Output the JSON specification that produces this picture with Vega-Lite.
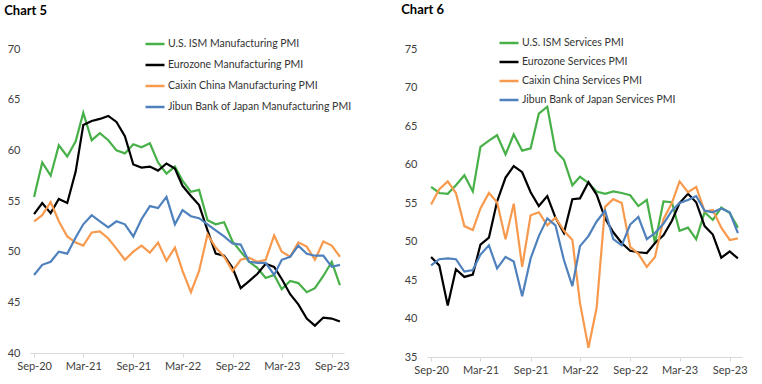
{
  "$schema": "https://vega.github.io/schema/vega-lite/v6.json",
  "padding": {"left": 4, "top": 4, "right": 2, "bottom": 2},
  "config": {
    "view": {"stroke": null},
    "font": "Lato",
    "axis": {"labelFont": "Lato", "labelFontSize": 11, "labelColor": "#404040", "grid": false, "title": null},
    "legend": {"labelFont": "Lato", "labelFontSize": 10.5, "labelColor": "#333333", "labelLimit": 0},
    "title": {"font": "Lato", "fontSize": 13, "fontWeight": "bold", "color": "#000000", "anchor": "start", "frame": "bounds", "dx": -3, "offset": 15},
    "concat": {"spacing": 49}
  },
  "datasets": {
    "mfg": [
      {"month": "2020-09", "us": 55.4, "ez": 53.7, "cn": 53.0, "jp": 47.7},
      {"month": "2020-10", "us": 58.8, "ez": 54.8, "cn": 53.6, "jp": 48.7},
      {"month": "2020-11", "us": 57.5, "ez": 53.8, "cn": 54.9, "jp": 49.0},
      {"month": "2020-12", "us": 60.5, "ez": 55.2, "cn": 53.0, "jp": 50.0},
      {"month": "2021-01", "us": 59.4, "ez": 54.8, "cn": 51.5, "jp": 49.8},
      {"month": "2021-02", "us": 60.9, "ez": 57.9, "cn": 50.9, "jp": 51.4},
      {"month": "2021-03", "us": 63.7, "ez": 62.5, "cn": 50.6, "jp": 52.7},
      {"month": "2021-04", "us": 61.0, "ez": 62.9, "cn": 51.9, "jp": 53.6},
      {"month": "2021-05", "us": 61.7, "ez": 63.1, "cn": 52.0, "jp": 53.0},
      {"month": "2021-06", "us": 61.0, "ez": 63.4, "cn": 51.3, "jp": 52.4},
      {"month": "2021-07", "us": 60.0, "ez": 62.8, "cn": 50.3, "jp": 53.0},
      {"month": "2021-08", "us": 59.7, "ez": 61.4, "cn": 49.2, "jp": 52.7},
      {"month": "2021-09", "us": 60.6, "ez": 58.6, "cn": 50.0, "jp": 51.5},
      {"month": "2021-10", "us": 60.3, "ez": 58.3, "cn": 50.6, "jp": 53.2},
      {"month": "2021-11", "us": 60.7, "ez": 58.4, "cn": 49.9, "jp": 54.5},
      {"month": "2021-12", "us": 58.8, "ez": 58.0, "cn": 50.9, "jp": 54.3},
      {"month": "2022-01", "us": 57.7, "ez": 58.7, "cn": 49.1, "jp": 55.4},
      {"month": "2022-02", "us": 58.4, "ez": 58.2, "cn": 50.4, "jp": 52.7},
      {"month": "2022-03", "us": 57.0, "ez": 56.5, "cn": 48.1, "jp": 54.1},
      {"month": "2022-04", "us": 55.9, "ez": 55.5, "cn": 46.0, "jp": 53.5},
      {"month": "2022-05", "us": 56.1, "ez": 54.6, "cn": 48.1, "jp": 53.3},
      {"month": "2022-06", "us": 53.1, "ez": 52.1, "cn": 51.7, "jp": 52.7},
      {"month": "2022-07", "us": 52.7, "ez": 49.8, "cn": 50.4, "jp": 52.1},
      {"month": "2022-08", "us": 52.9, "ez": 49.6, "cn": 49.5, "jp": 51.5},
      {"month": "2022-09", "us": 51.0, "ez": 48.4, "cn": 48.1, "jp": 50.8},
      {"month": "2022-10", "us": 50.0, "ez": 46.4, "cn": 49.2, "jp": 50.7},
      {"month": "2022-11", "us": 49.0, "ez": 47.1, "cn": 49.4, "jp": 49.0},
      {"month": "2022-12", "us": 48.4, "ez": 47.8, "cn": 49.0, "jp": 48.9},
      {"month": "2023-01", "us": 47.4, "ez": 48.8, "cn": 49.2, "jp": 48.9},
      {"month": "2023-02", "us": 47.7, "ez": 48.5, "cn": 51.6, "jp": 47.7},
      {"month": "2023-03", "us": 46.3, "ez": 47.3, "cn": 50.0, "jp": 49.2},
      {"month": "2023-04", "us": 47.1, "ez": 45.8, "cn": 49.5, "jp": 49.5},
      {"month": "2023-05", "us": 46.9, "ez": 44.8, "cn": 50.9, "jp": 50.6},
      {"month": "2023-06", "us": 46.0, "ez": 43.4, "cn": 50.5, "jp": 49.8},
      {"month": "2023-07", "us": 46.4, "ez": 42.7, "cn": 49.2, "jp": 49.6},
      {"month": "2023-08", "us": 47.6, "ez": 43.5, "cn": 51.0, "jp": 49.6},
      {"month": "2023-09", "us": 49.0, "ez": 43.4, "cn": 50.6, "jp": 48.5},
      {"month": "2023-10", "us": 46.7, "ez": 43.1, "cn": 49.5, "jp": 48.7}
    ],
    "svc": [
      {"month": "2020-09", "us": 57.1, "ez": 48.0, "cn": 54.8, "jp": 46.9},
      {"month": "2020-10", "us": 56.3, "ez": 46.9, "cn": 56.8, "jp": 47.7},
      {"month": "2020-11", "us": 56.2, "ez": 41.7, "cn": 57.8, "jp": 47.8},
      {"month": "2020-12", "us": 57.3, "ez": 46.4, "cn": 56.3, "jp": 47.7},
      {"month": "2021-01", "us": 58.6, "ez": 45.4, "cn": 52.0, "jp": 46.1},
      {"month": "2021-02", "us": 56.5, "ez": 45.7, "cn": 51.5, "jp": 46.3},
      {"month": "2021-03", "us": 62.3, "ez": 49.6, "cn": 54.3, "jp": 48.3},
      {"month": "2021-04", "us": 63.1, "ez": 50.5, "cn": 56.3, "jp": 49.5},
      {"month": "2021-05", "us": 63.8, "ez": 55.2, "cn": 55.1, "jp": 46.5},
      {"month": "2021-06", "us": 61.3, "ez": 58.3, "cn": 50.3, "jp": 48.0},
      {"month": "2021-07", "us": 63.9, "ez": 59.8, "cn": 54.9, "jp": 47.4},
      {"month": "2021-08", "us": 61.8, "ez": 59.0, "cn": 46.7, "jp": 42.9},
      {"month": "2021-09", "us": 62.1, "ez": 56.4, "cn": 53.4, "jp": 47.8},
      {"month": "2021-10", "us": 66.6, "ez": 54.6, "cn": 53.8, "jp": 50.7},
      {"month": "2021-11", "us": 67.5, "ez": 55.9, "cn": 52.1, "jp": 53.0},
      {"month": "2021-12", "us": 61.8, "ez": 53.1, "cn": 53.1, "jp": 52.1},
      {"month": "2022-01", "us": 60.6, "ez": 51.1, "cn": 51.4, "jp": 47.6},
      {"month": "2022-02", "us": 57.3, "ez": 55.5, "cn": 50.2, "jp": 44.2},
      {"month": "2022-03", "us": 58.4, "ez": 55.6, "cn": 42.0, "jp": 49.4},
      {"month": "2022-04", "us": 57.6, "ez": 57.7, "cn": 36.2, "jp": 50.7},
      {"month": "2022-05", "us": 56.5, "ez": 56.1, "cn": 41.4, "jp": 52.6},
      {"month": "2022-06", "us": 56.2, "ez": 53.0, "cn": 54.5, "jp": 54.0},
      {"month": "2022-07", "us": 56.5, "ez": 51.2, "cn": 55.5, "jp": 50.3},
      {"month": "2022-08", "us": 56.3, "ez": 49.8, "cn": 55.0, "jp": 49.5},
      {"month": "2022-09", "us": 56.0, "ez": 48.8, "cn": 49.3, "jp": 52.2},
      {"month": "2022-10", "us": 54.6, "ez": 48.6, "cn": 48.4, "jp": 53.2},
      {"month": "2022-11", "us": 55.4, "ez": 48.5, "cn": 46.7, "jp": 50.3},
      {"month": "2022-12", "us": 49.8, "ez": 49.8, "cn": 48.0, "jp": 51.1},
      {"month": "2023-01", "us": 55.2, "ez": 50.8, "cn": 52.9, "jp": 52.3},
      {"month": "2023-02", "us": 55.1, "ez": 52.7, "cn": 55.0, "jp": 54.0},
      {"month": "2023-03", "us": 51.4, "ez": 55.0, "cn": 57.8, "jp": 55.0},
      {"month": "2023-04", "us": 51.8, "ez": 56.2, "cn": 56.4, "jp": 55.4},
      {"month": "2023-05", "us": 50.3, "ez": 55.1, "cn": 57.1, "jp": 55.9},
      {"month": "2023-06", "us": 53.8, "ez": 52.0, "cn": 53.9, "jp": 54.0},
      {"month": "2023-07", "us": 52.8, "ez": 50.9, "cn": 54.1, "jp": 53.8},
      {"month": "2023-08", "us": 54.4, "ez": 47.9, "cn": 51.8, "jp": 54.3},
      {"month": "2023-09", "us": 53.7, "ez": 48.7, "cn": 50.2, "jp": 53.8},
      {"month": "2023-10", "us": 51.8, "ez": 47.8, "cn": 50.4, "jp": 51.1}
    ]
  },
  "resolve": {"scale": {"color": "independent", "x": "independent", "y": "independent"}, "legend": {"color": "independent"}},
  "hconcat": [
    {
      "width": 314,
      "height": 304,
      "title": {"text": "Chart 5"},
      "data": {"name": "mfg"},
      "transform": [{"fold": ["us", "ez", "cn", "jp"], "as": ["series", "value"]}],
      "mark": {"type": "line", "strokeWidth": 2.2},
      "encoding": {
        "x": {
          "field": "month", "type": "temporal", "timeUnit": "utcyearmonth",
          "scale": {"domain": [{"year": 2020, "month": 8, "date": 17, "utc": true}, {"year": 2023, "month": 10, "date": 16, "utc": true}]},
          "axis": {
            "values": [
              {"year": 2020, "month": 9, "date": 1, "utc": true},
              {"year": 2021, "month": 3, "date": 1, "utc": true},
              {"year": 2021, "month": 9, "date": 1, "utc": true},
              {"year": 2022, "month": 3, "date": 1, "utc": true},
              {"year": 2022, "month": 9, "date": 1, "utc": true},
              {"year": 2023, "month": 3, "date": 1, "utc": true},
              {"year": 2023, "month": 9, "date": 1, "utc": true}
            ],
            "labelExpr": "utcFormat(datum.value, '%b-%y')",
            "domainColor": "#D9D9D9", "tickColor": "#D9D9D9", "tickSize": 4, "labelPadding": 3
          }
        },
        "y": {
          "field": "value", "type": "quantitative",
          "scale": {"domain": [40, 70], "nice": false, "zero": false},
          "axis": {"values": [40, 45, 50, 55, 60, 65, 70], "domain": false, "ticks": false, "labelPadding": 10}
        },
        "color": {
          "field": "series", "type": "nominal",
          "scale": {"domain": ["us", "ez", "cn", "jp"], "range": ["#48B048", "#000000", "#F79A4E", "#4F81BD"]},
          "legend": {
            "title": null, "orient": "none", "legendX": 114, "legendY": -16,
            "labelExpr": "{'us': 'U.S. ISM Manufacturing PMI', 'ez': 'Eurozone Manufacturing PMI', 'cn': 'Caixin China Manufacturing PMI', 'jp': 'Jibun Bank of Japan Manufacturing PMI'}[datum.value]",
            "symbolType": "stroke", "symbolSize": 361, "symbolStrokeWidth": 2.5, "rowPadding": 4, "labelOffset": 2
          }
        }
      }
    },
    {
      "width": 315,
      "height": 308,
      "title": {"text": "Chart 6"},
      "data": {"name": "svc"},
      "transform": [{"fold": ["us", "ez", "cn", "jp"], "as": ["series", "value"]}],
      "mark": {"type": "line", "strokeWidth": 2.2},
      "encoding": {
        "x": {
          "field": "month", "type": "temporal", "timeUnit": "utcyearmonth",
          "scale": {"domain": [{"year": 2020, "month": 8, "date": 17, "utc": true}, {"year": 2023, "month": 10, "date": 16, "utc": true}]},
          "axis": {
            "values": [
              {"year": 2020, "month": 9, "date": 1, "utc": true},
              {"year": 2021, "month": 3, "date": 1, "utc": true},
              {"year": 2021, "month": 9, "date": 1, "utc": true},
              {"year": 2022, "month": 3, "date": 1, "utc": true},
              {"year": 2022, "month": 9, "date": 1, "utc": true},
              {"year": 2023, "month": 3, "date": 1, "utc": true},
              {"year": 2023, "month": 9, "date": 1, "utc": true}
            ],
            "labelExpr": "utcFormat(datum.value, '%b-%y')",
            "domainColor": "#D9D9D9", "tickColor": "#D9D9D9", "tickSize": 4, "labelPadding": 3
          }
        },
        "y": {
          "field": "value", "type": "quantitative",
          "scale": {"domain": [35, 75], "nice": false, "zero": false},
          "axis": {"values": [35, 40, 45, 50, 55, 60, 65, 70, 75], "domain": false, "ticks": false, "labelPadding": 10}
        },
        "color": {
          "field": "series", "type": "nominal",
          "scale": {"domain": ["us", "ez", "cn", "jp"], "range": ["#48B048", "#000000", "#F79A4E", "#4F81BD"]},
          "legend": {
            "title": null, "orient": "none", "legendX": 71, "legendY": -17,
            "labelExpr": "{'us': 'U.S. ISM Services PMI', 'ez': 'Eurozone Services PMI', 'cn': 'Caixin China Services PMI', 'jp': 'Jibun Bank of Japan Services PMI'}[datum.value]",
            "symbolType": "stroke", "symbolSize": 361, "symbolStrokeWidth": 2.5, "rowPadding": 2, "labelOffset": 2
          }
        }
      }
    }
  ]
}
